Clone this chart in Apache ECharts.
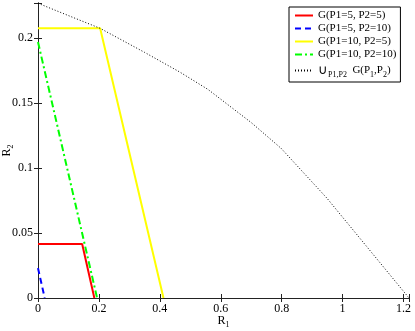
<!DOCTYPE html>
<html>
<head>
<meta charset="utf-8">
<script src="https://cdn.jsdelivr.net/npm/echarts@6/dist/echarts.min.js"></script>
<style>
  html, body { margin: 0; padding: 0; background: #fff; }
  #chart { width: 415px; height: 331px; }
</style>
</head>
<body>
<div id="chart"></div>
<script>
// R1 / R2 pairs for each region boundary
const redR1 = [0, 0.145, 0.185];
const redR2 = [0.0415, 0.0415, 0];
const blueR1 = [0, 0.022];
const blueR2 = [0.023, 0];
const yellowR1 = [0, 0.204, 0.412];
const yellowR2 = [0.2075, 0.2075, 0];
const greenR1 = [0, 0.194];
const greenR2 = [0.197, 0];
const unionR1 = [0, 0.1, 0.204, 0.35, 0.466, 0.558, 0.7, 0.798, 0.949, 1.218];
const unionR2 = [0.2268, 0.2173, 0.2075, 0.189, 0.1738, 0.1605, 0.135, 0.1152, 0.0767, 0];

const xTicks = [0, 0.2, 0.4, 0.6, 0.8, 1, 1.2];
const yTicks = [0, 0.05, 0.1, 0.15, 0.2];

const serif = 'Liberation Serif';

function pairs(xs, ys) {
  return xs.map((x, i) => [x, ys[i]]);
}
function near(list, v) {
  return list.some(t => Math.abs(t - v) < 1e-9);
}

const chart = echarts.init(document.getElementById('chart'));

const baseX = {
  type: 'value', min: 0, max: 1.218, interval: 0.2,
  axisLine: { show: true, lineStyle: { color: '#222', width: 1 } },
  axisTick: { show: true, inside: true, length: 4, lineStyle: { color: '#222' } },
  splitLine: { show: false }
};
const baseY = {
  type: 'value', min: 0, max: 0.227, interval: 0.05,
  axisLine: { show: true, lineStyle: { color: '#222', width: 1 } },
  axisTick: { show: true, inside: true, length: 4, lineStyle: { color: '#222' } },
  splitLine: { show: false }
};

const option = {
  animation: false,
  backgroundColor: '#fff',
  grid: { left: 38, right: 6, top: 3, bottom: 33, containLabel: false, outerBoundsMode: 'none' },
  legend: {
    orient: 'vertical',
    left: 289, top: 7,
    padding: [3, 4, 3, 5],
    itemGap: 2,
    itemWidth: 18,
    itemHeight: 10,
    borderColor: '#000',
    borderWidth: 1,
    backgroundColor: '#fff',
    itemStyle: { opacity: 0 },
    textStyle: {
      fontFamily: serif, fontSize: 11, color: '#000',
      rich: {
        n: { fontFamily: serif, fontSize: 11, color: '#000', lineHeight: 13 },
        u: { fontFamily: serif, fontSize: 13, color: '#000', lineHeight: 13 },
        s: { fontFamily: serif, fontSize: 8, color: '#000', lineHeight: 13, padding: [9, 0, 0, 0] }
      }
    },
    formatter: function (name) {
      if (name === 'union') {
        return '{u|\u222A}{s|P}{s|1}{s|,P}{s|2}{n|  G(P}{s|1}{n|,P}{s|2}{n|)}';
      }
      return name;
    },
    data: ['G(P1=5, P2=5)', 'G(P1=5, P2=10)', 'G(P1=10, P2=5)', 'G(P1=10, P2=10)', 'union']
  },
  xAxis: [
    Object.assign({}, baseX, {
      position: 'bottom',
      name: '{n|R}{s|1}',
      nameLocation: 'middle',
      nameGap: 15,
      nameMoveOverlap: false,
      nameTextStyle: {
        rich: {
          n: { fontFamily: serif, fontSize: 12, color: '#000' },
          s: { fontFamily: serif, fontSize: 8, color: '#000', padding: [8, 0, 0, 0] }
        }
      },
      axisLabel: {
        fontFamily: serif, fontSize: 12, color: '#000', margin: 5,
        formatter: v => near(xTicks, v) ? String(v) : ''
      }
    }),
    Object.assign({}, baseX, {
      position: 'top',
      axisLabel: { show: false }
    })
  ],
  yAxis: [
    Object.assign({}, baseY, {
      position: 'left',
      name: '{n|R}{s|2}',
      nameLocation: 'middle',
      nameGap: 23,
      nameMoveOverlap: false,
      nameTextStyle: {
        rich: {
          n: { fontFamily: serif, fontSize: 12, color: '#000' },
          s: { fontFamily: serif, fontSize: 8, color: '#000', padding: [8, 0, 0, 0] }
        }
      },
      axisLabel: {
        fontFamily: serif, fontSize: 12, color: '#000', margin: 5,
        formatter: v => near(yTicks, v) ? String(v) : ''
      }
    }),
    Object.assign({}, baseY, {
      position: 'right',
      axisLabel: { show: false }
    })
  ],
  series: [
    {
      name: 'G(P1=5, P2=5)', type: 'line', symbol: 'none',
      data: pairs(redR1, redR2),
      lineStyle: { color: '#ff0000', width: 2 }, itemStyle: { color: '#ff0000' }
    },
    {
      name: 'G(P1=5, P2=10)', type: 'line', symbol: 'none',
      data: pairs(blueR1, blueR2),
      lineStyle: { color: '#0000ff', width: 2, type: [6, 4] }, itemStyle: { color: '#0000ff' }
    },
    {
      name: 'G(P1=10, P2=5)', type: 'line', symbol: 'none',
      data: pairs(yellowR1, yellowR2),
      lineStyle: { color: '#ffff00', width: 2 }, itemStyle: { color: '#ffff00' }
    },
    {
      name: 'G(P1=10, P2=10)', type: 'line', symbol: 'none',
      data: pairs(greenR1, greenR2),
      lineStyle: { color: '#00ff00', width: 2, type: [7, 3, 2, 3] }, itemStyle: { color: '#00ff00' }
    },
    {
      name: 'union', type: 'line', symbol: 'none',
      data: pairs(unionR1, unionR2),
      lineStyle: { color: '#000', width: 1, type: [1, 2] }, itemStyle: { color: '#000' }
    }
  ]
};

chart.setOption(option);
</script>
</body>
</html>
